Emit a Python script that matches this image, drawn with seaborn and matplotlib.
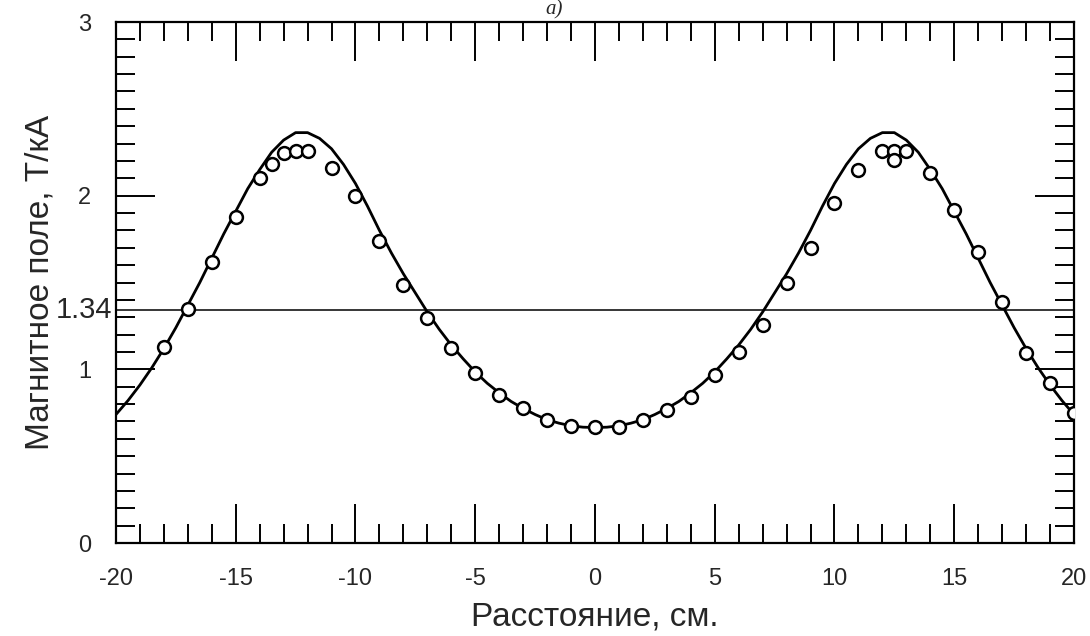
import numpy as np
import pandas as pd
import seaborn as sns
import matplotlib.pyplot as plt
from matplotlib.ticker import MultipleLocator

# measured points (markers)
meas_x = [-18, -17, -16, -15, -14, -13.5, -13, -12.5, -12, -11, -10, -9, -8,
          -7, -6, -5, -4, -3, -2, -1, 0, 1, 2, 3, 4, 5, 6, 7, 8, 9, 10,
          11, 12, 12.5, 12.5, 13, 14, 15, 16, 17, 18, 19, 20]
meas_y = [1.13, 1.35, 1.62, 1.875, 2.10, 2.18, 2.245, 2.257, 2.258, 2.157, 2.00, 1.74, 1.485,
          1.294, 1.121, 0.977, 0.852, 0.775, 0.708, 0.674, 0.666, 0.67, 0.708, 0.766, 0.842, 0.967, 1.098, 1.255, 1.495, 1.697, 1.956,
          2.147, 2.257, 2.257, 2.205, 2.257, 2.132, 1.917, 1.674, 1.386, 1.095, 0.92, 0.75]

# calculated curve
calc_x = [-20, -19.5, -19, -18.5, -18, -17.5, -17, -16.5, -16, -15.5, -15, -14.5, -14,
          -13.5, -13, -12.5, -12, -11.5, -11, -10.5, -10, -9.5, -9, -8.5, -8, -7.5, -7,
          -6.5, -6, -5.5, -5, -4.5, -4, -3.5, -3, -2.5, -2, -1.5, -1, -0.5, 0,
          0.5, 1, 1.5, 2, 2.5, 3, 3.5, 4, 4.5, 5, 5.5, 6, 6.5, 7, 7.5, 8,
          8.5, 9, 9.5, 10, 10.5, 11, 11.5, 12, 12.5, 13, 13.5, 14, 14.5, 15,
          15.5, 16, 16.5, 17, 17.5, 18, 18.5, 19, 19.5, 20]
calc_y = [0.74, 0.82, 0.91, 1.01, 1.12, 1.24, 1.37, 1.50, 1.64, 1.78, 1.91, 2.04, 2.15,
          2.25, 2.32, 2.363, 2.363, 2.33, 2.27, 2.18, 2.07, 1.94, 1.80, 1.67, 1.55, 1.44, 1.33,
          1.23, 1.14, 1.06, 0.985, 0.92, 0.865, 0.815, 0.775, 0.74, 0.71, 0.69, 0.675, 0.667, 0.665,
          0.667, 0.675, 0.69, 0.71, 0.74, 0.775, 0.815, 0.865, 0.92, 0.985, 1.06, 1.14, 1.23, 1.33, 1.44, 1.55,
          1.67, 1.80, 1.94, 2.07, 2.18, 2.27, 2.33, 2.363, 2.363, 2.32, 2.25, 2.15, 2.04, 1.91,
          1.78, 1.64, 1.50, 1.37, 1.24, 1.12, 1.01, 0.91, 0.82, 0.74]

level = 1.34

x_ticks = [-20, -15, -10, -5, 0, 5, 10, 15, 20]
x_tick_labels = ["-20", "-15", "-10", "-5", "0", "5", "10", "15", "20"]
y_ticks = [0, 1, 2, 3]
y_tick_labels = ["0", "1", "2", "3"]

calc_df = pd.DataFrame({"x": calc_x, "y": calc_y})
meas_df = pd.DataFrame({"x": meas_x, "y": meas_y})

sns.set_style("ticks")
plt.rcParams["font.family"] = ["Liberation Sans", "DejaVu Sans"]

fig = plt.figure(figsize=(10.9, 6.36), dpi=100)
ax = fig.add_axes([0.1064, 0.1462, 0.8789, 0.8192])

sns.lineplot(data=calc_df, x="x", y="y", ax=ax, color="black",
             linewidth=2.0, sort=False, zorder=3)
ax.axhline(level, color="black", linewidth=1.1, zorder=2)
sns.scatterplot(data=meas_df, x="x", y="y", ax=ax, marker="o", s=85,
                facecolor="white", edgecolor="black", linewidth=1.8, zorder=4)

ax.set_xlim(-20, 20)
ax.set_ylim(0, 3)
ax.set_xticks(x_ticks)
ax.set_xticklabels(x_tick_labels)
ax.set_yticks(y_ticks)
ax.set_yticklabels(y_tick_labels)
ax.xaxis.set_minor_locator(MultipleLocator(1))
ax.yaxis.set_minor_locator(MultipleLocator(0.1))

ax.tick_params(which="both", direction="in", top=True, right=True,
               width=1.4, color="black", labelsize=17)
ax.tick_params(which="major", length=28)
ax.tick_params(which="minor", length=14)
ax.tick_params(axis="x", which="major", pad=18)
ax.tick_params(axis="y", which="major", pad=18)
for sp in ax.spines.values():
    sp.set_linewidth(1.6)
    sp.set_color("black")

ax.text(-20.15, level, "1.34", ha="right", va="center", fontsize=21)

ax.set_xlabel("Расстояние, см.", fontsize=24, labelpad=8)
ax.set_ylabel("Магнитное поле, Т/кА", fontsize=24, labelpad=16)

fig.text(0.508, 0.999, "а)", ha="center", va="top", fontsize=15,
         family="Liberation Serif", style="italic")

fig.savefig("out.png", dpi=100, facecolor="white")
